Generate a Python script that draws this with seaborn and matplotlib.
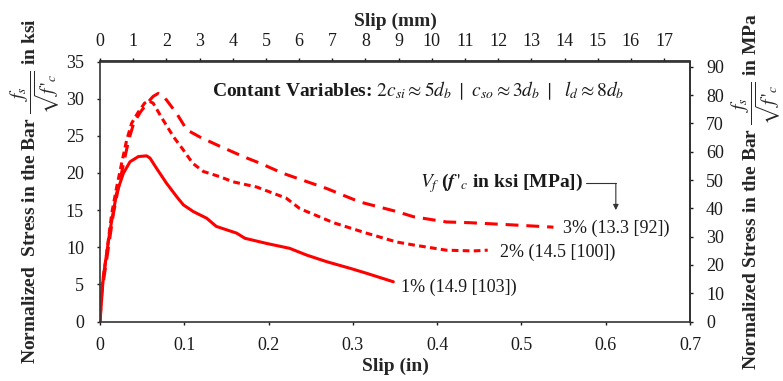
import numpy as np
import pandas as pd
import matplotlib
matplotlib.use("Agg")
import matplotlib.pyplot as plt
import seaborn as sns
from matplotlib.ticker import FuncFormatter, MultipleLocator

# Bond stress vs. slip for three fibre volume fractions
slip_1 = [0, 0.0039, 0.0119, 0.0198, 0.0277, 0.0356, 0.0455, 0.0553, 0.0593, 0.0672,
          0.079, 0.091, 0.0989, 0.1107, 0.1266, 0.138, 0.162, 0.172, 0.198, 0.225,
          0.245, 0.269, 0.297, 0.316, 0.348]
stress_1 = [0, 6.0, 12.3, 17.3, 19.95, 21.5, 22.2, 22.3, 22.0, 20.6,
            18.6, 16.8, 15.7, 14.8, 13.9, 12.8, 11.9, 11.2, 10.5, 9.85,
            8.95, 8.05, 7.15, 6.5, 5.35]

slip_2 = [0, 0.0014, 0.0079, 0.014, 0.0198, 0.0257, 0.0316, 0.0376, 0.0455, 0.053,
          0.0573, 0.063, 0.075, 0.087, 0.0988, 0.11, 0.1225, 0.142, 0.158, 0.186,
          0.221, 0.237, 0.277, 0.316, 0.352, 0.372, 0.411, 0.443, 0.46]
stress_2 = [0, 3.8, 9.2, 14.6, 18.1, 21.3, 24.4, 26.7, 28.2, 29.4,
            29.7, 29.4, 27.1, 24.9, 23.1, 21.3, 20.2, 19.5, 18.8, 18.1,
            16.6, 15.2, 13.3, 11.9, 10.7, 10.3, 9.6, 9.5, 9.6]

slip_3 = [0, 0.002, 0.009, 0.016, 0.022, 0.028, 0.034, 0.040, 0.048, 0.056,
          0.063, 0.069, 0.075, 0.079, 0.091, 0.103, 0.119, 0.142, 0.17, 0.19,
          0.217, 0.269, 0.308, 0.352, 0.372, 0.411, 0.439, 0.49, 0.538]
stress_3 = [0, 3.8, 9.2, 14.6, 18.1, 21.3, 24.4, 26.7, 28.2, 29.4,
            30.3, 30.7, 30.3, 29.8, 28.0, 25.8, 24.8, 23.6, 22.2, 21.3,
            19.95, 17.9, 16.1, 14.8, 14.1, 13.4, 13.3, 13.0, 12.7]

series_labels = ["1% (14.9 [103])", "2% (14.5 [100])", "3% (13.3 [92])"]
label_pos = [(0.357, 4.6), (0.475, 9.3), (0.549, 12.6)]

IN_TO_MM = 25.4
KSI_TO_MPA_NORM = np.sqrt(6.894757)
FS = 13
FS_BOLD = 14
FS_YLAB = 14
INK = "#1a1a1a"
TICKS = dict(labelsize=FS, direction="out", length=2.5, width=1, colors=INK)

sns.set_theme(style="ticks")
plt.rcParams["font.family"] = ["Liberation Serif", "DejaVu Serif"]
plt.rcParams["mathtext.fontset"] = "stix"

fig = plt.figure(figsize=(7.83, 3.81), dpi=100)
ax = fig.add_axes([100 / 783, 1 - 321.5 / 381, 590 / 783, 260 / 381])

styles = [
    dict(linestyle="-"),
    dict(linestyle=(0, (2.2, 1.4))),
    dict(linestyle=(0, (4.2, 2.6))),
]
for xs, ys, st in zip([slip_1, slip_2, slip_3], [stress_1, stress_2, stress_3], styles):
    df = pd.DataFrame({"slip": xs, "stress": ys})
    sns.lineplot(data=df, x="slip", y="stress", ax=ax, color="#ff0000", lw=2.2,
                 sort=False, estimator=None, **st)

for text, (tx, ty) in zip(series_labels, label_pos):
    ax.text(tx, ty, text, fontsize=FS, ha="left", va="center", color=INK)

ax.set_xlim(0, 0.7)
ax.set_ylim(0, 35)
ax.xaxis.set_major_locator(MultipleLocator(0.1))
ax.yaxis.set_major_locator(MultipleLocator(5))
ax.xaxis.set_major_formatter(FuncFormatter(lambda v, p: f"{v:g}"))
ax.tick_params(pad=9, **TICKS)

for s in ax.spines.values():
    s.set_color("#333333")
    s.set_linewidth(1.2)
    s.set_visible(True)

frac = "$\\dfrac{f_s}{\\sqrt{f\\,'_c}}$"
ax.set_xlabel("Slip (in)", fontsize=FS_BOLD, fontweight="bold", labelpad=2)
ax.set_ylabel("Normalized  Stress in the Bar " + frac + " in ksi",
              fontsize=FS_YLAB, fontweight="bold", labelpad=3)

top = ax.secondary_xaxis("top", functions=(lambda v: v * IN_TO_MM, lambda v: v / IN_TO_MM))
top.xaxis.set_major_locator(MultipleLocator(1))
top.tick_params(pad=6, **TICKS)
top.set_xlabel("Slip (mm)", fontsize=FS_BOLD, fontweight="bold", labelpad=5)

right = ax.secondary_yaxis("right", functions=(lambda v: v * KSI_TO_MPA_NORM,
                                                lambda v: v / KSI_TO_MPA_NORM))
right.yaxis.set_major_locator(MultipleLocator(10))
right.tick_params(pad=9, **TICKS)
right.set_ylabel("Normalized Stress in the Bar " + frac + " in MPa",
                 fontsize=FS_YLAB, fontweight="bold", labelpad=4)

ax.text(0.378, 31.0,
        "Contant Variables: $2c_{si} \\approx 5d_b\\ \\mid\\ c_{so} \\approx 3d_b\\ \\mid\\ \\ l_d \\approx 8d_b$",
        fontsize=FS_BOLD, fontweight="bold", ha="center", va="center", color=INK)

ax.text(0.573, 18.6, "$\\boldsymbol{V_f}$ ($\\boldsymbol{f\\,'_c}$ in ksi [MPa])",
        fontsize=FS_BOLD, fontweight="bold", ha="right", va="center", color=INK)
ax.plot([0.577, 0.612], [18.6, 18.6], color="#333333", lw=0.8)
ax.annotate("", xy=(0.612, 15.0), xytext=(0.612, 18.6),
            arrowprops=dict(arrowstyle="-|>", color="#333333", lw=0.8,
                            mutation_scale=8, shrinkA=0, shrinkB=0))

fig.savefig("out.png", dpi=100)
